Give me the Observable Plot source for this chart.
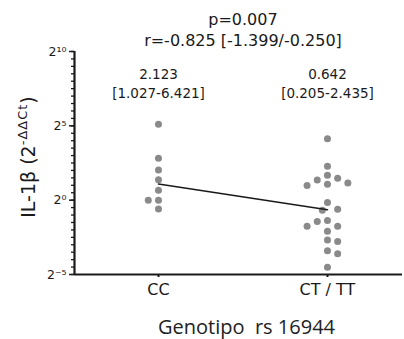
<!DOCTYPE html>
<html><head><meta charset="utf-8">
<script src="https://cdn.jsdelivr.net/npm/d3@7"></script>
<script src="https://cdn.jsdelivr.net/npm/@observablehq/plot@0.6"></script>
<style>body{margin:0;background:#fff} svg{display:block}</style>
</head><body><div id="chart"></div>
<script>
// ---- data ----
const groups = ["CC", "CT / TT"];
const ccValues = [34.5, 7.06, 4.08, 2.58, 1.58, 1.0, 1.0, 0.66];
const ctValues = [17.6, 4.86, 2.77, 2.22, 1.99, 2.11, 2.55, 3.18, 0.895, 0.655, 0.624,
                  0.369, 0.387, 0.295, 0.295, 0.235, 0.145, 0.156, 0.0947, 0.0825, 0.044];
const medians = [2.123, 0.642];
const medianLabels = ["2.123", "0.642"];
const ciLabels = ["[1.027-6.421]", "[0.205-2.435]"];
const titleLines = ["p=0.007", "r=-0.825 [-1.399/-0.250]"];
const yMajorExponents = [-5, 0, 5, 10];
const yMinorStep = 0.5;
const xTitle = "Genotipo  rs 16944";
const yTitleMain = "IL-1β (2";
const yTitleSup = "-ΔΔCt";
const yTitleEnd = ")";

// ---- layout ----
const W = 404, H = 339, mL = 74, mR = 2, mT = 51, mB = 65;
const xDomain = [-0.497, 1.444];
const yDomain = [2 ** -5, 2 ** 10];
const xs = d3.scaleLinear(xDomain, [mL, W - mR]);
const ys = d3.scaleLog().base(2).domain(yDomain).range([H - mB, mT]);
const R = 3.5, STEP = 5.1, MIN = 8.6;
const pxPerUnit = xs(1) - xs(0);

function swarm(values, gi) {
  const placed = [];
  const order = values.map((v, i) => ({v, i})).sort((a, b) => b.v - a.v);
  order.forEach(({v}, n) => {
    const py = ys(v);
    let off = 0;
    for (let k = 0; k < 40; k++) {
      const cands = k === 0 ? [0] : (n % 2 ? [k, -k] : [-k, k]);
      const ok = cands.find(c => placed.every(p => Math.hypot(p.ox - c * STEP, p.py - py) >= MIN));
      if (ok !== undefined) { off = ok * STEP; break; }
    }
    placed.push({ox: off, py, v});
  });
  return placed.map(p => ({x: gi + p.ox / pxPerUnit, value: p.v}));
}
const dotData = [...swarm(ccValues, 0), ...swarm(ctValues, 1)];
const medianData = medians.map((m, i) => ({g: i, m, label: medianLabels[i] + "\n" + ciLabels[i]}));

const sup = {"-": "⁻", "0": "⁰", "1": "¹", "2": "²", "3": "³", "4": "⁴", "5": "⁵", "6": "⁶", "7": "⁷", "8": "⁸", "9": "⁹"};
const supFormat = v => "2" + String(Math.round(Math.log2(v))).split("").map(c => sup[c]).join("");
const majorTicks = yMajorExponents.map(e => 2 ** e);
const minorTicks = d3.range(yMajorExponents[0], yMajorExponents[yMajorExponents.length - 1] + 1e-9, yMinorStep).map(e => 2 ** e);

const ink = "#1a1a1a";
const plot = Plot.plot({
  width: W, height: H,
  marginLeft: mL, marginRight: mR, marginTop: mT, marginBottom: mB,
  style: {fontFamily: "DejaVu Sans", color: ink, background: "#fff"},
  x: {type: "linear", domain: xDomain},
  y: {type: "log", base: 2, domain: yDomain},
  marks: [
    Plot.axisY(minorTicks, {tickSize: 3, fill: "none", strokeWidth: 1.3}),
    Plot.axisY(majorTicks, {tickSize: 5, tickPadding: 3, tickFormat: supFormat, fontSize: 12.5, label: null, strokeWidth: 1.5}),
    Plot.axisX([0, 1], {tickSize: 3, tickPadding: 6, tickFormat: i => groups[i], fontSize: 16, label: null, strokeWidth: 2, letterSpacing: 0.8}),
    Plot.ruleY([yDomain[0]], {stroke: ink, strokeWidth: 2.2}),
    Plot.ruleX([xDomain[0]], {stroke: ink, strokeWidth: 2.2}),
    Plot.dot(dotData, {x: "x", y: "value", r: R, fill: "#8a8a8a"}),
    Plot.line(medianData, {x: "g", y: "m", stroke: ink, strokeWidth: 1.6}),
    Plot.text(medianData, {x: "g", text: "label", frameAnchor: "top", lineAnchor: "top", dy: 14, fontSize: 13.5, lineHeight: 1.4, fill: ink}),
    Plot.text([titleLines.join("\n")], {x: 0.5, text: d => d, frameAnchor: "top", lineAnchor: "top", dy: -41, fontSize: 16, lineHeight: 1.3, fill: ink}),
    Plot.text([xTitle], {text: d => d, frameAnchor: "bottom", lineAnchor: "bottom", dx: 8, dy: 59, fontSize: 20, fontFamily: "Open Sans", fill: "#222"})
  ]
});
document.getElementById("chart").append(plot);

// rotated y title with superscript
const svg = d3.select(plot);
const t = svg.append("text")
  .attr("transform", "translate(35,157) rotate(-90)")
  .attr("text-anchor", "middle")
  .attr("font-family", "DejaVu Sans")
  .attr("fill", ink)
  .attr("font-size", 19);
t.append("tspan").text(yTitleMain);
t.append("tspan").attr("font-size", 13).attr("letter-spacing", 1).attr("dy", -8).text(yTitleSup);
t.append("tspan").attr("font-size", 19).attr("dy", 8).text(yTitleEnd);
</script>
</body></html>
